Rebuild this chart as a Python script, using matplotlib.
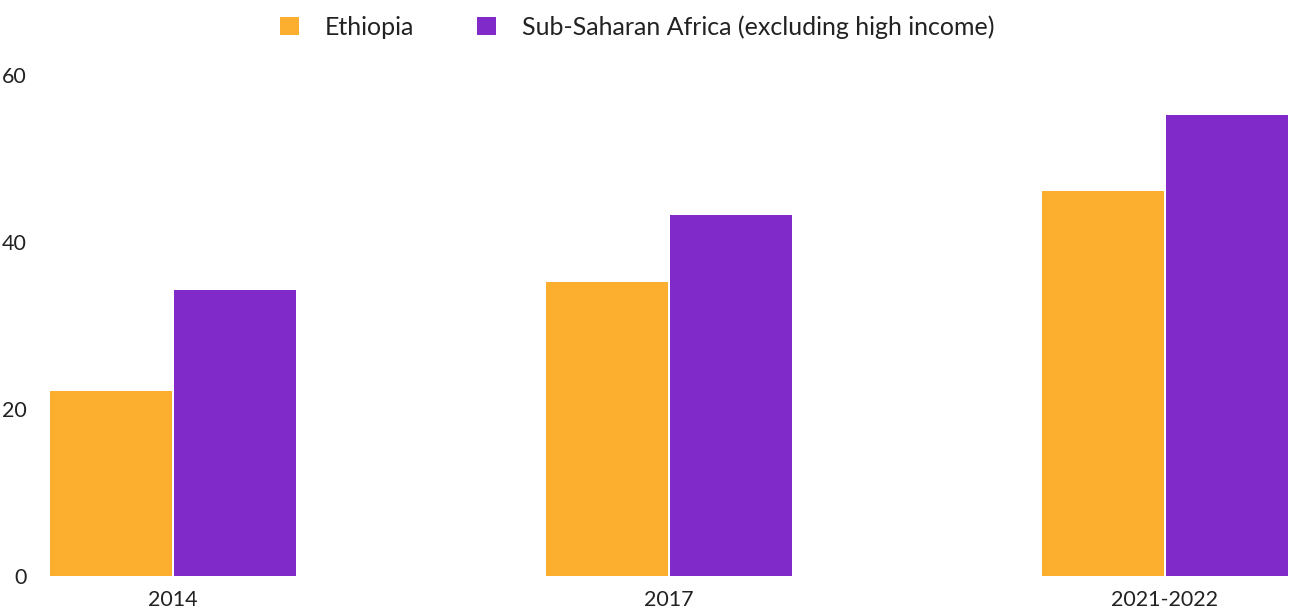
import numpy as np
import matplotlib
matplotlib.use("Agg")
import matplotlib.pyplot as plt

plt.rcParams['font.family'] = ['Lato', 'DejaVu Sans']

years = ["2014", "2017", "2021-2022"]
ethiopia = [22.1, 35.2, 46.1]
ssa = [34.2, 43.2, 55.2]
series_names = ["Ethiopia", "Sub-Saharan Africa (excluding high income)"]
colors = ["#FCAE2E", "#802BC9"]

fig = plt.figure(figsize=(12.9, 6.12), dpi=100)
ax = fig.add_axes([49 / 1290, 36 / 612, 1240 / 1290, 501 / 612])

x = np.arange(len(years))
w = 0.25
ax.bar(x - w / 2, ethiopia, width=w * 0.985, color=colors[0], label=series_names[0])
ax.bar(x + w / 2, ssa, width=w * 0.985, color=colors[1], label=series_names[1])

ax.set_xlim(-0.25, 2.25)
ax.set_ylim(0, 60)
ax.set_yticks([0, 20, 40, 60])
ax.set_xticks(x)
ax.set_xticklabels(years)
ax.tick_params(length=0, labelsize=15.5, colors="#222222")
ax.tick_params(axis="y", pad=16)
ax.tick_params(axis="x", pad=10)
for s in ax.spines.values():
    s.set_visible(False)

fig.legend(loc="upper center", bbox_to_anchor=(0.494, 1.012), ncol=2, frameon=False,
           fontsize=18, handlelength=0.75, handleheight=0.75, columnspacing=2.5,
           handletextpad=1.05, labelcolor="#222222")

fig.savefig("out.png", dpi=100)
